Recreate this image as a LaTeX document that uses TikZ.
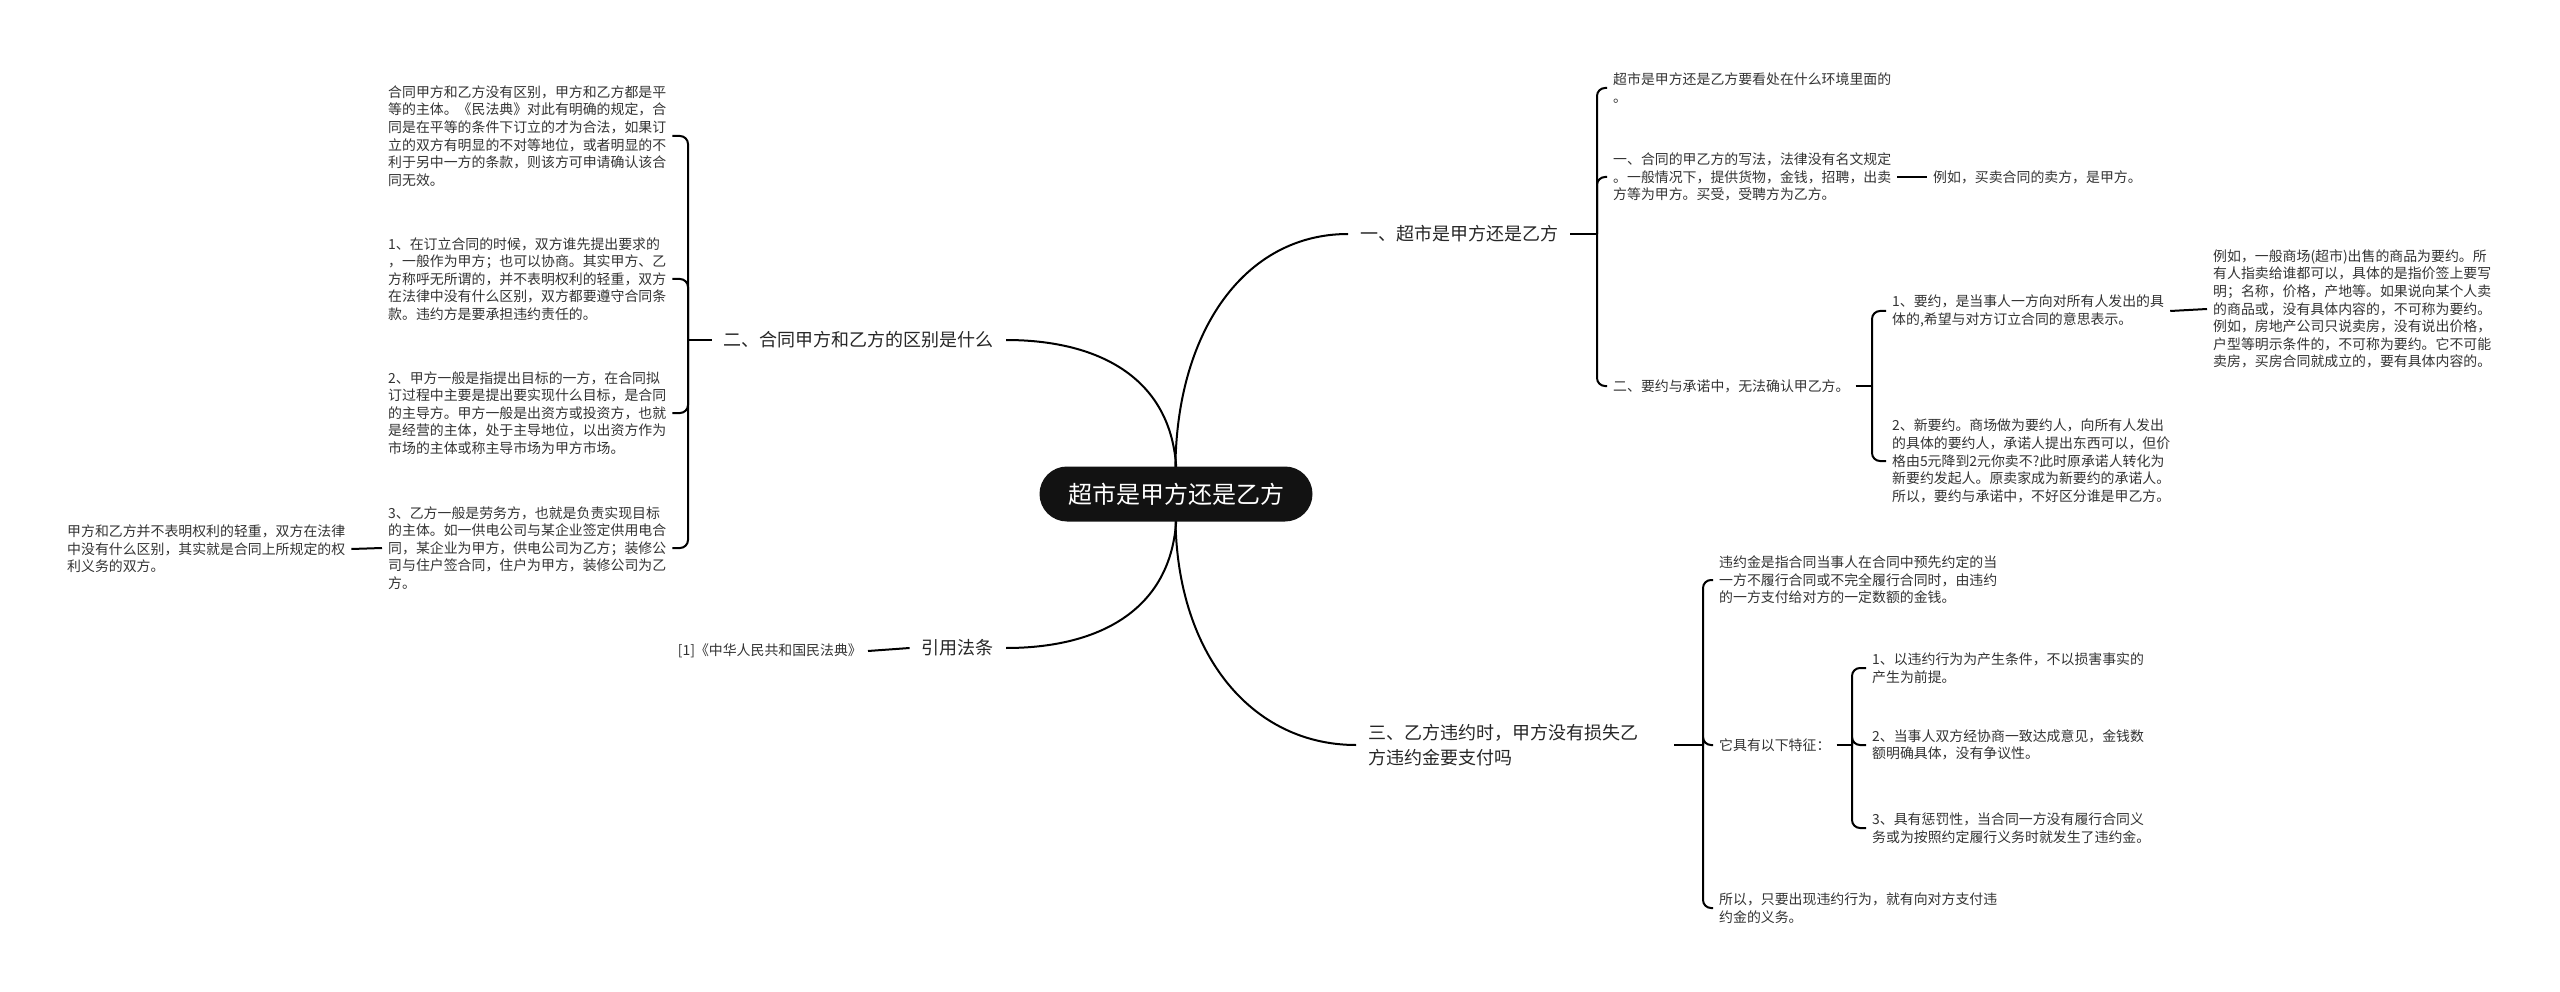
\documentclass[tikz,border=0pt]{standalone}
\usepackage{fontspec}
\setmainfont{Noto Sans CJK SC}
\usetikzlibrary{backgrounds}
\begin{document}
\begin{tikzpicture}[x=1pt, y=-1pt,
  root/.style={fill=black!93, text=white, rounded corners=27.5pt, minimum width=273pt, minimum height=55pt, font=\fontsize{24}{30}\selectfont},
  topic/.style={inner xsep=12pt, inner ysep=3pt, align=left, text=black!85, font=\fontsize{18}{25}\selectfont},
  leaf/.style={inner xsep=6pt, inner ysep=2pt, align=left, anchor=west, text=black!80, font=\fontsize{13.9}{17.6}\selectfont},
  link/.style={line width=2pt},
  brace/.style={line width=2pt, rounded corners=8pt}]
\useasboundingbox (0,0) rectangle (2560,992);
\node[root] (root) at (1176,494) {超市是甲方还是乙方};
\node[topic, anchor=west] (t1) at (1348,234) {一、超市是甲方还是乙方};
\node[topic, anchor=west] (t3) at (1356,745) {三、乙方违约时，甲方没有损失乙\\方违约金要支付吗};
\node[topic, anchor=east] (t2) at (1006,340) {二、合同甲方和乙方的区别是什么};
\node[topic, anchor=east] (t4) at (1006,648) {引用法条};
\begin{pgfonlayer}{background}
\draw[link] (root.center) .. controls +(-8,-150) and +(-110,0) .. (t1.west);
\draw[link] (root.center) .. controls +(-8,150) and +(-110,0) .. (t3.west);
\draw[link] (root.center) .. controls +(8,-110) and +(100,0) .. (t2.east);
\draw[link] (root.center) .. controls +(8,110) and +(100,0) .. (t4.east);
\end{pgfonlayer}
\node[leaf] (a1) at (1607,88) {超市是甲方还是乙方要看处在什么环境里面的\\。};
\node[leaf] (a2) at (1607,177) {一、合同的甲乙方的写法，法律没有名文规定\\。一般情况下，提供货物，金钱，招聘，出卖\\方等为甲方。买受，受聘方为乙方。};
\node[leaf] (a3) at (1607,386) {二、要约与承诺中，无法确认甲乙方。};
\node[leaf] (b1) at (1927,177) {例如，买卖合同的卖方，是甲方。};
\node[leaf] (c1) at (1886,311) {1、要约，是当事人一方向对所有人发出的具\\体的,希望与对方订立合同的意思表示。};
\node[leaf] (c2) at (1886,461) {2、新要约。商场做为要约人，向所有人发出\\的具体的要约人，承诺人提出东西可以，但价\\格由5元降到2元你卖不?此时原承诺人转化为\\新要约发起人。原卖家成为新要约的承诺人。\\所以，要约与承诺中，不好区分谁是甲乙方。};
\node[leaf] (d1) at (2207,309) {例如，一般商场(超市)出售的商品为要约。所\\有人指卖给谁都可以，具体的是指价签上要写\\明；名称，价格，产地等。如果说向某个人卖\\的商品或，没有具体内容的，不可称为要约。\\例如，房地产公司只说卖房，没有说出价格，\\户型等明示条件的，不可称为要约。它不可能\\卖房，买房合同就成立的，要有具体内容的。};
\node[leaf] (e1) at (1713,580) {违约金是指合同当事人在合同中预先约定的当\\一方不履行合同或不完全履行合同时，由违约\\的一方支付给对方的一定数额的金钱。};
\node[leaf] (e2) at (1713,745) {它具有以下特征：};
\node[leaf] (e3) at (1713,908) {所以，只要出现违约行为，就有向对方支付违\\约金的义务。};
\node[leaf] (f1) at (1866,668) {1、以违约行为为产生条件，不以损害事实的\\产生为前提。};
\node[leaf] (f2) at (1866,745) {2、当事人双方经协商一致达成意见，金钱数\\额明确具体，没有争议性。};
\node[leaf] (f3) at (1866,828) {3、具有惩罚性，当合同一方没有履行合同义\\务或为按照约定履行义务时就发生了违约金。};
\node[leaf] (g1) at (382,136) {合同甲方和乙方没有区别，甲方和乙方都是平\\等的主体。《民法典》对此有明确的规定，合\\同是在平等的条件下订立的才为合法，如果订\\立的双方有明显的不对等地位，或者明显的不\\利于另中一方的条款，则该方可申请确认该合\\同无效。};
\node[leaf] (g2) at (382,279) {1、在订立合同的时候，双方谁先提出要求的\\，一般作为甲方；也可以协商。其实甲方、乙\\方称呼无所谓的，并不表明权利的轻重，双方\\在法律中没有什么区别，双方都要遵守合同条\\款。违约方是要承担违约责任的。};
\node[leaf] (g3) at (382,413) {2、甲方一般是指提出目标的一方，在合同拟\\订过程中主要是提出要实现什么目标，是合同\\的主导方。甲方一般是出资方或投资方，也就\\是经营的主体，处于主导地位，以出资方作为\\市场的主体或称主导市场为甲方市场。};
\node[leaf] (g4) at (382,548) {3、乙方一般是劳务方，也就是负责实现目标\\的主体。如一供电公司与某企业签定供用电合\\同，某企业为甲方，供电公司为乙方；装修公\\司与住户签合同，住户为甲方，装修公司为乙\\方。};
\node[leaf] (h1) at (61,549) {甲方和乙方并不表明权利的轻重，双方在法律\\中没有什么区别，其实就是合同上所规定的权\\利义务的双方。};
\node[leaf, anchor=east] (k1) at (868,651) {[1]《中华人民共和国民法典》};
\coordinate (j1) at (1597,234);
\coordinate (j3) at (1703,745);
\coordinate (ja3) at (1872,386);
\coordinate (je2) at (1852,745);
\coordinate (j2) at (688,340);
\draw[link] (t1.east) -- (j1);
\foreach \n in {a1,a2,a3} \draw[brace] (j1) |- (\n.west);
\draw[link] (a2.east) -- (b1.west);
\draw[link] (a3.east) -- (ja3);
\foreach \n in {c1,c2} \draw[brace] (ja3) |- (\n.west);
\draw[link] (c1.east) -- (d1.west);
\draw[link, shorten <=24pt] (t3.east) -- (j3);
\foreach \n in {e1,e2,e3} \draw[brace] (j3) |- (\n.west);
\draw[link] (e2.east) -- (je2);
\foreach \n in {f1,f2,f3} \draw[brace] (je2) |- (\n.west);
\draw[link] (t2.west) -- (j2);
\foreach \n in {g1,g2,g3,g4} \draw[brace] (j2) |- (\n.east);
\draw[link] (g4.west) -- (h1.east);
\draw[link] (t4.west) -- (k1.east);
\end{tikzpicture}
\end{document}
